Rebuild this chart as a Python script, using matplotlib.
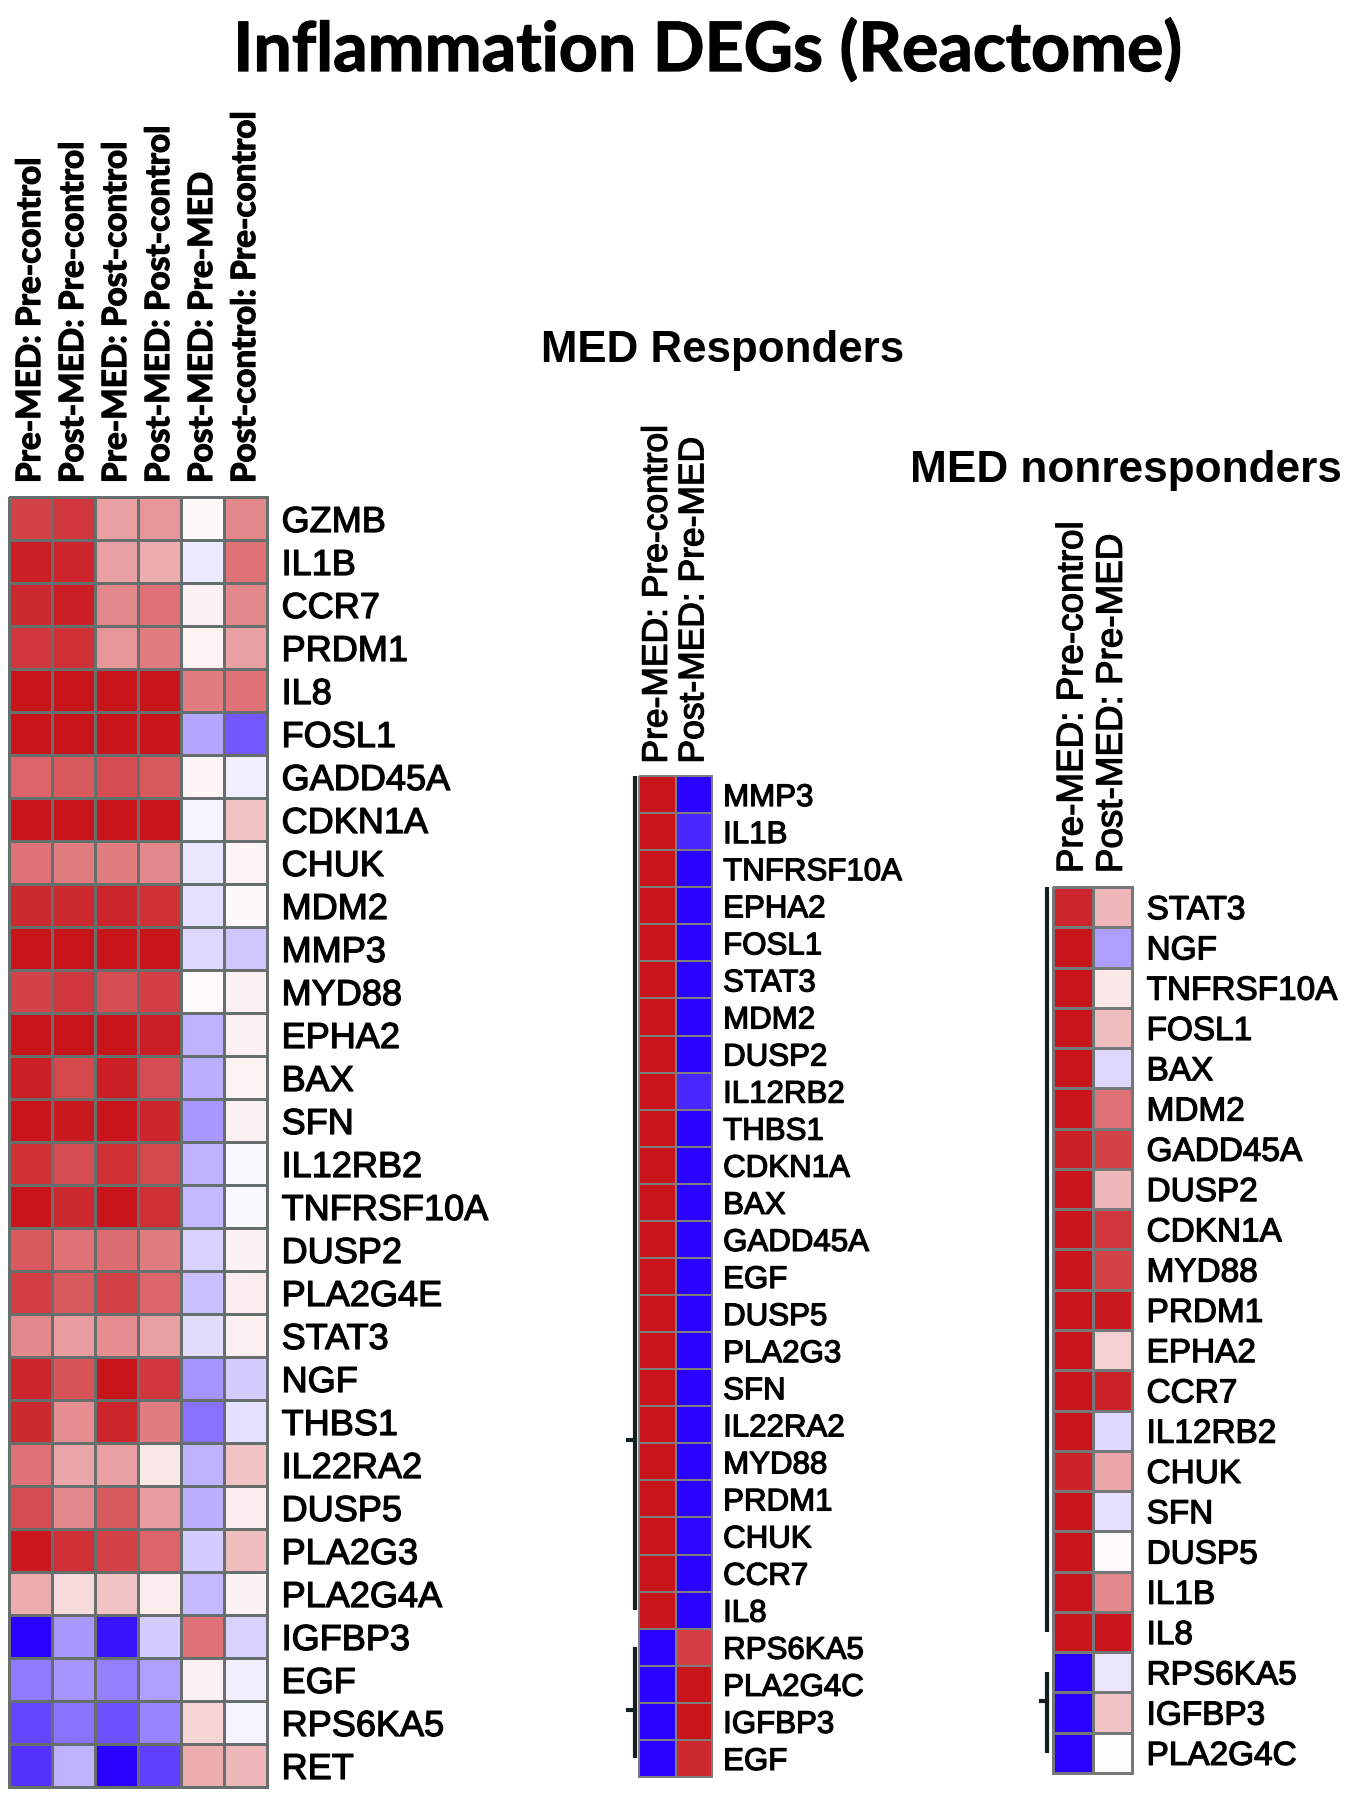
import matplotlib
matplotlib.use("Agg")
import matplotlib.pyplot as plt
import matplotlib.patheffects as pe
import numpy as np
from matplotlib.colors import LinearSegmentedColormap

W, H = 1353, 1800

# ---- data ----
left_cols = ["Pre-MED: Pre-control", "Post-MED: Pre-control", "Pre-MED: Post-control",
             "Post-MED: Post-control", "Post-MED: Pre-MED", "Post-control: Pre-control"]
left_genes = ["GZMB", "IL1B", "CCR7", "PRDM1", "IL8", "FOSL1", "GADD45A", "CDKN1A", "CHUK",
              "MDM2", "MMP3", "MYD88", "EPHA2", "BAX", "SFN", "IL12RB2", "TNFRSF10A", "DUSP2",
              "PLA2G4E", "STAT3", "NGF", "THBS1", "IL22RA2", "DUSP5", "PLA2G3", "PLA2G4A",
              "IGFBP3", "EGF", "RPS6KA5", "RET"]
left_values = [
    [0.80, 0.85, 0.40, 0.45, 0.03, 0.50],
    [0.95, 0.92, 0.40, 0.35, -0.08, 0.60],
    [0.90, 0.95, 0.50, 0.60, 0.06, 0.50],
    [0.85, 0.88, 0.45, 0.55, 0.05, 0.40],
    [1.00, 1.00, 1.00, 1.00, 0.55, 0.60],
    [1.00, 1.00, 1.00, 1.00, -0.35, -0.65],
    [0.65, 0.70, 0.75, 0.70, 0.04, -0.07],
    [1.00, 1.00, 1.00, 1.00, -0.04, 0.25],
    [0.60, 0.55, 0.55, 0.50, -0.10, 0.04],
    [0.90, 0.90, 0.92, 0.88, -0.12, 0.03],
    [1.00, 1.00, 1.00, 1.00, -0.15, -0.22],
    [0.80, 0.85, 0.75, 0.82, 0.02, 0.06],
    [1.00, 1.00, 1.00, 0.95, -0.30, 0.06],
    [0.95, 0.78, 0.95, 0.75, -0.32, 0.05],
    [1.00, 0.97, 1.00, 0.92, -0.40, 0.06],
    [0.88, 0.75, 0.88, 0.78, -0.30, -0.03],
    [1.00, 0.90, 1.00, 0.88, -0.28, -0.03],
    [0.70, 0.60, 0.62, 0.55, -0.18, 0.06],
    [0.82, 0.70, 0.80, 0.65, -0.25, 0.08],
    [0.50, 0.42, 0.48, 0.40, -0.14, 0.07],
    [0.92, 0.72, 1.00, 0.85, -0.42, -0.20],
    [0.90, 0.48, 0.92, 0.55, -0.55, -0.12],
    [0.60, 0.38, 0.40, 0.10, -0.30, 0.25],
    [0.75, 0.50, 0.70, 0.42, -0.32, 0.08],
    [0.98, 0.88, 0.80, 0.65, -0.20, 0.28],
    [0.35, 0.15, 0.25, 0.08, -0.28, 0.06],
    [-1.00, -0.40, -0.92, -0.20, 0.60, -0.18],
    [-0.52, -0.42, -0.50, -0.38, 0.06, -0.06],
    [-0.72, -0.55, -0.68, -0.48, 0.18, -0.04],
    [-0.80, -0.30, -1.00, -0.75, 0.35, 0.30],
]

sub_cols = ["Pre-MED: Pre-control", "Post-MED: Pre-MED"]

resp_genes = ["MMP3", "IL1B", "TNFRSF10A", "EPHA2", "FOSL1", "STAT3", "MDM2", "DUSP2", "IL12RB2",
              "THBS1", "CDKN1A", "BAX", "GADD45A", "EGF", "DUSP5", "PLA2G3", "SFN", "IL22RA2",
              "MYD88", "PRDM1", "CHUK", "CCR7", "IL8", "RPS6KA5", "PLA2G4C", "IGFBP3", "EGF"]
resp_values = [
    [1.0, -1.0], [1.0, -0.85], [1.0, -1.0], [1.0, -1.0], [1.0, -1.0], [1.0, -1.0],
    [1.0, -1.0], [1.0, -1.0], [1.0, -0.85], [1.0, -1.0], [1.0, -1.0], [1.0, -1.0],
    [1.0, -1.0], [1.0, -1.0], [1.0, -1.0], [1.0, -1.0], [1.0, -1.0], [1.0, -1.0],
    [1.0, -1.0], [1.0, -1.0], [1.0, -0.97], [1.0, -1.0], [1.0, -1.0],
    [-1.0, 0.82], [-1.0, 1.0], [-1.0, 1.0], [-1.0, 0.9],
]

nonresp_genes = ["STAT3", "NGF", "TNFRSF10A", "FOSL1", "BAX", "MDM2", "GADD45A", "DUSP2",
                 "CDKN1A", "MYD88", "PRDM1", "EPHA2", "CCR7", "IL12RB2", "CHUK", "SFN", "DUSP5",
                 "IL1B", "IL8", "RPS6KA5", "IGFBP3", "PLA2G4C"]
nonresp_values = [
    [0.92, 0.30], [1.0, -0.38], [1.0, 0.10], [1.0, 0.28], [1.0, -0.15], [1.0, 0.60],
    [0.95, 0.80], [1.0, 0.30], [1.0, 0.85], [1.0, 0.80], [1.0, 0.97], [1.0, 0.20],
    [1.0, 0.93], [1.0, -0.15], [0.93, 0.38], [1.0, -0.12], [1.0, 0.02], [1.0, 0.50],
    [1.0, 1.0], [-1.0, -0.10], [-1.0, 0.25], [-1.0, 0.01],
]

cmap = LinearSegmentedColormap.from_list("ref_bwr", ["#2a00ff", "#ffffff", "#c8141a"])
thick = [pe.withStroke(linewidth=0.9, foreground="black")]

fig = plt.figure(figsize=(W / 100, H / 100), dpi=100)


def heatmap(box, values, genes, cols, gene_size, col_style, edge, lw, gene_pad, col_pad):
    x0, y0, x1, y1 = box
    ax = fig.add_axes([x0 / W, 1 - y1 / H, (x1 - x0) / W, (y1 - y0) / H])
    data = np.array(values)
    mesh = ax.pcolormesh(data, cmap=cmap, vmin=-1, vmax=1, edgecolors=edge, linewidth=lw)
    mesh.set_clip_on(False)
    ax.set_xlim(0, data.shape[1])
    ax.set_ylim(data.shape[0], 0)

    ax.yaxis.tick_right()
    ax.set_yticks(np.arange(len(genes)) + 0.5)
    ax.set_yticklabels(genes, fontsize=gene_size, family="Liberation Sans", path_effects=thick)
    ax.xaxis.tick_top()
    ax.set_xticks(np.arange(len(cols)) + 0.5)
    ax.set_xticklabels(cols, rotation=90, **col_style)
    ax.tick_params(axis="y", length=0, pad=gene_pad)
    ax.tick_params(axis="x", length=0, pad=col_pad)
    for s in ax.spines.values():
        s.set_visible(False)
    return ax


ax_all = heatmap((9, 497, 267, 1787), left_values, left_genes, left_cols, 26,
                 dict(fontsize=24, family="Lato", fontweight="bold", path_effects=thick),
                 "#676e6e", 2.0, 10.5, 10)

ax_resp = heatmap((639, 776, 712, 1777), resp_values, resp_genes, sub_cols, 22.5,
                  dict(fontsize=25.5, family="Liberation Sans", path_effects=thick),
                  "#7d7d7d", 1.4, 8, 9)

ax_non = heatmap((1053, 887, 1132, 1773), nonresp_values, nonresp_genes, sub_cols, 24,
                 dict(fontsize=26.5, family="Liberation Sans", path_effects=thick),
                 "#747878", 1.8, 10.5, 10)

# dendrogram stubs at the left of the subgroup maps
dcol = "#142020"
dlw = 3.0
ax_resp.plot([-0.12, -0.12], [0, 22.5], color=dcol, lw=dlw, clip_on=False, solid_capstyle="butt")
ax_resp.plot([-0.30, -0.12], [17.9, 17.9], color=dcol, lw=dlw, clip_on=False)
ax_resp.plot([-0.12, -0.12], [23.5, 26.5], color=dcol, lw=dlw, clip_on=False, solid_capstyle="butt")
ax_resp.plot([-0.30, -0.12], [25.2, 25.2], color=dcol, lw=dlw, clip_on=False)

ax_non.plot([-0.14, -0.14], [0, 18.5], color=dcol, lw=dlw, clip_on=False, solid_capstyle="butt")
ax_non.plot([-0.14, -0.14], [19.5, 21.5], color=dcol, lw=dlw, clip_on=False, solid_capstyle="butt")
ax_non.plot([-0.30, -0.14], [20.2, 20.2], color=dcol, lw=dlw, clip_on=False)

fig.text(707 / W, 1 - 71 / H, "Inflammation DEGs (Reactome)", ha="center", va="baseline",
         fontsize=49, family="Lato", fontweight="bold", path_effects=thick)
fig.text(723 / W, 1 - 362 / H, "MED Responders", ha="center", va="baseline",
         fontsize=31.6, family="Liberation Sans", fontweight="bold")
fig.text(1126 / W, 1 - 482 / H, "MED nonresponders", ha="center", va="baseline",
         fontsize=31.8, family="Liberation Sans", fontweight="bold")

fig.savefig("out.png", dpi=100, facecolor="white")
